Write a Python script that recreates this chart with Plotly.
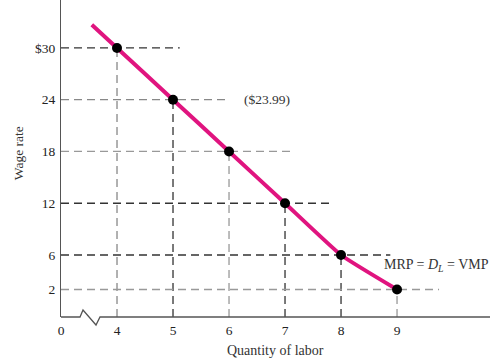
import plotly.graph_objects as go

# ---- data ----
labor = [4, 5, 6, 7, 8, 9]
wage = [30, 24, 18, 12, 6, 2]
curve_x = [3.55, 4, 5, 6, 7, 8, 9]
curve_y = [32.7, 30, 24, 18, 12, 6, 2]
y_tickvals = [30, 24, 18, 12, 6, 2]
y_ticktext = ["$30", "24", "18", "12", "6", "2"]
x_tickvals = [3, 4, 5, 6, 7, 8, 9]
x_ticktext = ["0", "4", "5", "6", "7", "8", "9"]

# ---- styling / layout helpers ----
X0, X1 = 3.0, 10.66
Y0, Y1 = -1.19, 35.56
h_ends = [5.12, 6.0, 7.1, 7.82, 8.88, 9.75]
h_cols = ["#333", "#888", "#999", "#333", "#333", "#999"]
v_cols = ["#888", "#333", "#999", "#333", "#333", "#999"]
FONT = "Liberation Serif"
MAG = "#E0147F"
PW, PH = 429.0, 317.0  # plot area size in px

fig = go.Figure()

shapes = []
for x, y, he, hc, vc in zip(labor, wage, h_ends, h_cols, v_cols):
    shapes.append(dict(type="line", xref="x", yref="y", x0=X0, x1=he, y0=y, y1=y,
                       line=dict(color=hc, width=1.3, dash="8px,5px"), layer="below"))
    shapes.append(dict(type="line", xref="x", yref="y", x0=x, x1=x, y0=Y0, y1=y,
                       line=dict(color=vc, width=1.3, dash="8px,5px"), layer="below"))

# x-axis line with break (zigzag), in paper coords
def P(px_, py_):
    return f"{px_ / PW:.5f},{-py_ / PH:.5f}"

path = "M " + " L ".join([P(0, 0), P(19, 0), P(22, -7), P(35, 8), P(39, 0), P(PW, 0)])
shapes.append(dict(type="path", xref="paper", yref="paper", path=path,
                   line=dict(color="#555", width=1.3), layer="above"))

fig.add_trace(go.Scatter(x=curve_x, y=curve_y, mode="lines",
                         line=dict(color=MAG, width=4, shape="spline", smoothing=0.4),
                         showlegend=False))
fig.add_trace(go.Scatter(x=labor, y=wage, mode="markers",
                         marker=dict(color="black", size=10), showlegend=False))

annotations = [
    dict(x=6.23, y=24, xref="x", yref="y", text="($23.99)", showarrow=False,
         xanchor="left", yanchor="middle", font=dict(family=FONT, size=13.5, color="#333")),
    dict(x=8.73, y=4.8, xref="x", yref="y",
         text="MRP = <i>D</i><sub><i>L</i></sub> = VMP", showarrow=False,
         xanchor="left", yanchor="middle", font=dict(family=FONT, size=14, color="#333")),
    dict(x=0.501, y=-0.105, xref="paper", yref="paper", text="Quantity of labor",
         showarrow=False, xanchor="center", yanchor="middle",
         font=dict(family=FONT, size=14, color="#333")),
    dict(x=-0.1, y=0.517, xref="paper", yref="paper", text="Wage rate", textangle=-90,
         showarrow=False, xanchor="center", yanchor="middle",
         font=dict(family=FONT, size=13.5, color="#333")),
]

fig.update_layout(
    width=500, height=358,
    margin=dict(l=61, r=10, t=0, b=41),
    paper_bgcolor="white", plot_bgcolor="white",
    shapes=shapes, annotations=annotations,
    xaxis=dict(range=[X0, X1], tickvals=x_tickvals, ticktext=x_ticktext,
               showgrid=False, zeroline=False, showline=False, ticks="",
               ticklabelstandoff=3,
               tickfont=dict(family=FONT, size=13.5, color="#222")),
    yaxis=dict(range=[Y0, Y1], tickvals=y_tickvals, ticktext=y_ticktext,
               showgrid=False, zeroline=False, showline=True, linecolor="#555",
               linewidth=1.3, ticks="", ticklen=0, ticklabelstandoff=2,
               tickfont=dict(family=FONT, size=13.5, color="#222")),
)

fig.write_html("out.html")
